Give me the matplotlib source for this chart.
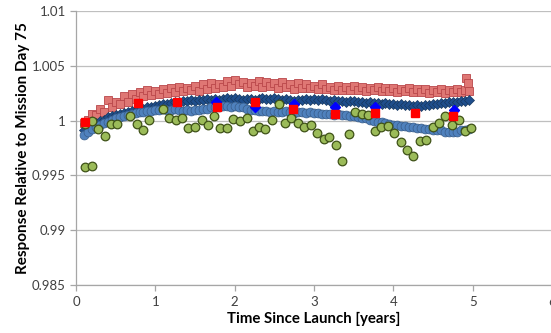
import matplotlib
matplotlib.use("Agg")
import matplotlib.pyplot as plt

plt.rcParams['font.family'] = ['Lato', 'DejaVu Sans']

# shared time axis of the dense (daily-ish) series, years since launch
t_dense = [0.10, 0.15, 0.20, 0.25, 0.30, 0.35, 0.40, 0.45, 0.50, 0.55,
           0.60, 0.65, 0.70, 0.75, 0.80, 0.85, 0.90, 0.95, 1.00, 1.05,
           1.10, 1.15, 1.20, 1.25, 1.30, 1.35, 1.40, 1.45, 1.50, 1.55,
           1.60, 1.65, 1.70, 1.75, 1.80, 1.85, 1.90, 1.95, 2.00, 2.05,
           2.10, 2.15, 2.20, 2.25, 2.30, 2.35, 2.40, 2.45, 2.50, 2.55,
           2.60, 2.65, 2.70, 2.75, 2.80, 2.85, 2.90, 2.95, 3.00, 3.05,
           3.10, 3.15, 3.20, 3.25, 3.30, 3.35, 3.40, 3.45, 3.50, 3.55,
           3.60, 3.65, 3.70, 3.75, 3.80, 3.85, 3.90, 3.95, 4.00, 4.05,
           4.10, 4.15, 4.20, 4.25, 4.30, 4.35, 4.40, 4.45, 4.50, 4.55,
           4.60, 4.65, 4.70, 4.75, 4.80, 4.85, 4.90, 4.95]

salmon = [0.9998, 1.0001, 1.0006, 1.0005, 1.0011, 1.0008, 1.0019, 1.0012, 1.0017, 1.0015,
          1.0022, 1.0017, 1.0024, 1.0020, 1.0026, 1.0022, 1.0028, 1.0023, 1.0027, 1.0024,
          1.0029, 1.0025, 1.0030, 1.0026, 1.0031, 1.0027, 1.0030, 1.0028, 1.0032, 1.0027,
          1.0033, 1.0029, 1.0034, 1.0030, 1.0033, 1.0031, 1.0036, 1.0032, 1.0037, 1.0033,
          1.0035, 1.0031, 1.0034, 1.0032, 1.0036, 1.0031, 1.0035, 1.0032, 1.0034, 1.0030,
          1.0035, 1.0031, 1.0033, 1.0029, 1.0034, 1.0030, 1.0033, 1.0030, 1.0032, 1.0029,
          1.0033, 1.0029, 1.0031, 1.0028, 1.0032, 1.0028, 1.0031, 1.0028, 1.0032, 1.0028,
          1.0031, 1.0027, 1.0030, 1.0028, 1.0031, 1.0027, 1.0030, 1.0027, 1.0030, 1.0026,
          1.0029, 1.0027, 1.0030, 1.0026, 1.0029, 1.0026, 1.0029, 1.0025, 1.0028, 1.0026,
          1.0029, 1.0025, 1.0028, 1.0026, 1.0029, 1.0026, 1.0028, 1.0027]
salmon_end_t = [4.92, 4.94]
salmon_end_y = [1.0039, 1.0034]

navy = [0.9991, 0.9994, 0.9996, 0.9998, 1.0000, 1.0001, 1.0003, 1.0004, 1.0005, 1.0006,
        1.0007, 1.0008, 1.0009, 1.0009, 1.0010, 1.0011, 1.0012, 1.0012, 1.0013, 1.0014,
        1.0015, 1.0015, 1.0016, 1.0017, 1.0017, 1.0018, 1.0018, 1.0019, 1.0018, 1.0019,
        1.0019, 1.0020, 1.0019, 1.0020, 1.0019, 1.0020, 1.0021, 1.0020, 1.0021, 1.0020,
        1.0019, 1.0020, 1.0020, 1.0019, 1.0020, 1.0021, 1.0020, 1.0020, 1.0021, 1.0020,
        1.0019, 1.0020, 1.0019, 1.0018, 1.0019, 1.0019, 1.0020, 1.0019, 1.0020, 1.0019,
        1.0020, 1.0019, 1.0018, 1.0019, 1.0018, 1.0018, 1.0017, 1.0018, 1.0018, 1.0017,
        1.0017, 1.0016, 1.0017, 1.0016, 1.0016, 1.0015, 1.0016, 1.0015, 1.0015, 1.0014,
        1.0015, 1.0014, 1.0014, 1.0013, 1.0014, 1.0013, 1.0014, 1.0014, 1.0015, 1.0015,
        1.0016, 1.0016, 1.0017, 1.0017, 1.0017, 1.0018, 1.0018, 1.0019]

steel = [0.9987, 0.9990, 0.9992, 0.9994, 0.9996, 0.9998, 0.9999, 1.0001, 1.0002, 1.0003,
         1.0004, 1.0005, 1.0006, 1.0007, 1.0008, 1.0008, 1.0009, 1.0009, 1.0010, 1.0010,
         1.0011, 1.0010, 1.0010, 1.0011, 1.0010, 1.0009, 1.0010, 1.0009, 1.0010, 1.0010,
         1.0011, 1.0011, 1.0012, 1.0012, 1.0012, 1.0013, 1.0013, 1.0012, 1.0013, 1.0012,
         1.0012, 1.0011, 1.0010, 1.0010, 1.0009, 1.0009, 1.0009, 1.0008, 1.0009, 1.0008,
         1.0008, 1.0009, 1.0008, 1.0007, 1.0008, 1.0008, 1.0007, 1.0008, 1.0007, 1.0007,
         1.0006, 1.0006, 1.0006, 1.0005, 1.0006, 1.0005, 1.0005, 1.0004, 1.0004, 1.0003,
         1.0002, 1.0002, 1.0001, 1.0000, 0.9999, 0.9999, 0.9998, 0.9997, 0.9996, 0.9996,
         0.9995, 0.9995, 0.9994, 0.9994, 0.9993, 0.9993, 0.9992, 0.9992, 0.9991, 0.9991,
         0.9991, 0.9990, 0.9990, 0.9990, 0.9990, 0.9991, 0.9991, 0.9992]

# monthly green points
t_green = [0.113, 0.113, 0.206, 0.206, 0.281, 0.366, 0.438, 0.521, 0.681, 0.765,
           0.849, 0.924, 1.101, 1.173, 1.257, 1.340, 1.416, 1.501, 1.585, 1.661,
           1.736, 1.816, 1.900, 1.984, 2.068, 2.153, 2.228, 2.304, 2.383, 2.468,
           2.560, 2.632, 2.707, 2.796, 2.875, 2.960, 3.035, 3.119, 3.194, 3.279,
           3.358, 3.439, 3.522, 3.603, 3.686, 3.762, 3.846, 3.931, 4.010, 4.090,
           4.170, 4.253, 4.329, 4.410, 4.493, 4.574, 4.653, 4.738, 4.821, 4.897,
           4.977]
green = [0.99973, 0.99576, 0.99996, 0.99589, 0.99920, 0.99856, 0.99973, 0.99973, 1.00042, 0.99973,
         0.99911, 1.00009, 1.00110, 1.00027, 1.00003, 1.00027, 0.99936, 0.99942, 1.00009, 0.99963,
         1.00039, 0.99936, 0.99930, 1.00012, 0.99994, 1.00024, 0.99905, 0.99942, 0.99920, 1.00003,
         1.00155, 0.99982, 1.00027, 0.99982, 0.99942, 0.99963, 0.99890, 0.99835, 0.99850, 0.99781,
         0.99631, 0.99881, 1.00079, 1.00064, 1.00055, 0.99902, 0.99942, 0.99954, 0.99890, 0.99802,
         0.99735, 0.99674, 0.99811, 0.99820, 0.99942, 0.99982, 1.00042, 0.99957, 1.00009, 0.99905,
         0.99932]

# half-yearly red squares and blue diamonds
t_red = [0.11, 0.78, 1.27, 1.78, 2.26, 2.74, 3.27, 3.77, 4.27, 4.75]
red = [0.9999, 1.00165, 1.00170, 1.00124, 1.00170, 1.00110, 1.00058, 1.00069, 1.00073, 1.00039]
t_blue = [1.77, 2.26, 2.75, 3.27, 3.77, 4.76]
blue = [1.00170, 1.00124, 1.00155, 1.00124, 1.00128, 1.00101]

fig = plt.figure(figsize=(5.51, 3.33), dpi=100)
ax = fig.add_axes([0.138, 0.144, 0.864, 0.823])

ax.plot(t_dense + salmon_end_t, salmon + salmon_end_y, 's', ms=6.4,
        mfc='#DF7774', mec='#B9474A', mew=0.6, zorder=2)
ax.plot(t_dense, navy, 'D', ms=5.2, mfc='#1F4E8C', mec='#17375E', mew=0.5, zorder=3)
ax.plot(t_dense, steel, 'o', ms=6.4, mfc='#4F81BD', mec='#385D8A', mew=0.5, zorder=4)
ax.plot(t_green, green, 'o', ms=6.2, mfc='#9BBB59', mec='#3F5218', mew=0.9, zorder=5)
ax.plot(t_blue, blue, 'D', ms=5.5, mfc='#0000FF', mec='#0000FF', zorder=6)
ax.plot(t_red, red, 's', ms=6.0, mfc='#FF0000', mec='#FF0000', zorder=7)

ax.set_xlim(0, 6)
ax.set_ylim(0.985, 1.01)
ax.set_xticks([0, 1, 2, 3, 4, 5, 6])
ax.set_yticks([0.985, 0.99, 0.995, 1.0, 1.005, 1.01])
ax.set_yticklabels(['0.985', '0.99', '0.995', '1', '1.005', '1.01'])
ax.grid(axis='y', color='#BFBFBF', lw=0.9)
ax.set_axisbelow(True)
for s in ['top', 'right']:
    ax.spines[s].set_visible(False)
for s in ['left', 'bottom']:
    ax.spines[s].set_color('#A6A6A6')
    ax.spines[s].set_linewidth(0.9)
ax.tick_params(colors='#A6A6A6', labelcolor='#404040', labelsize=9.5,
               length=4, width=0.9, direction='out')
ax.tick_params(axis='x', pad=4)

ax.set_xlabel('Time Since Launch [years]', fontsize=10.8, fontweight='bold', labelpad=3)
ax.set_ylabel('Response Relative to Mission Day 75', fontsize=11, fontweight='bold', labelpad=1.5)

fig.savefig('out.png', dpi=100)
